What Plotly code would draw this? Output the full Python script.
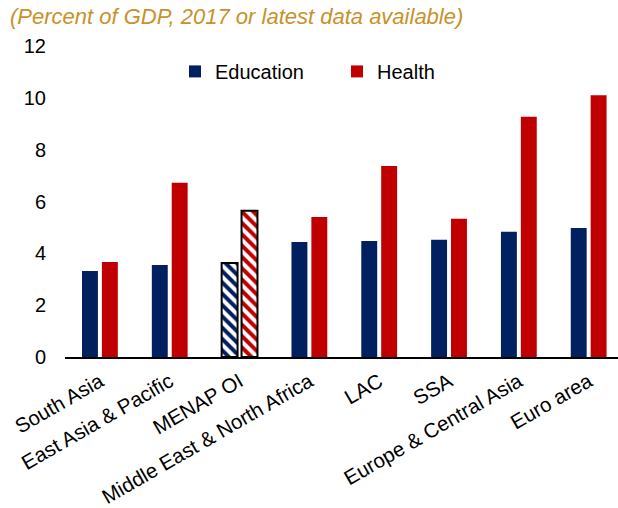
import plotly.graph_objects as go

categories = ["South Asia", "East Asia & Pacific", "MENAP OI", "Middle East & North Africa",
              "LAC", "SSA", "Europe & Central Asia", "Euro area"]
education = [3.32, 3.55, 3.63, 4.44, 4.48, 4.52, 4.83, 4.98]
health = [3.67, 6.72, 5.64, 5.40, 7.37, 5.33, 9.27, 10.10]
highlight = "MENAP OI"

NAVY = "#002060"
RED = "#C00000"

def marker_for(color):
    hl = [c == highlight for c in categories]
    shapes = ["\\" if h else "" for h in hl]
    lcol = ["black" if h else color for h in hl]
    lw = [2 if h else 0 for h in hl]
    return dict(color=color, line=dict(color=lcol, width=lw),
                pattern=dict(shape=shapes, bgcolor="white", fgcolor=color,
                             size=8, solidity=0.5, fillmode="replace"))

fig = go.Figure()
fig.add_trace(go.Bar(x=categories, y=education, name="Education",
                     marker=marker_for(NAVY), legend="legend", showlegend=True))
fig.add_trace(go.Bar(x=categories, y=health, name="Health",
                     marker=marker_for(RED), legend="legend2", showlegend=True))

leg = dict(orientation="h", yanchor="top", y=0.981, xanchor="left",
           font=dict(size=20), itemwidth=30, bgcolor="rgba(0,0,0,0)")

fig.update_layout(
    width=618, height=508,
    showlegend=True,
    margin=dict(l=65, r=0, t=46, b=151),
    paper_bgcolor="white", plot_bgcolor="white",
    barmode="group", bargap=0.43, bargroupgap=0.2,
    font=dict(family="Liberation Sans, Arial", size=20, color="black"),
    legend=dict(leg, x=(175 - 65) / 553),
    legend2=dict(leg, x=(337 - 65) / 553),
    annotations=[dict(text="<i>(Percent of GDP, 2017 or latest data available)</i>",
                      xref="paper", yref="paper", x=-0.103, y=1.0, xanchor="left",
                      yanchor="bottom", yshift=15, showarrow=False,
                      font=dict(size=22, color="#C8912A"))],
)
fig.update_xaxes(showline=True, linecolor="black", linewidth=1.5, tickangle=-30,
                 ticks="outside", ticklen=3, tickcolor="rgba(0,0,0,0)", automargin=False,
                 showgrid=False, tickfont=dict(size=20.5), range=[-0.5, 7.42])
fig.update_yaxes(range=[0, 12], dtick=2, showgrid=False, zeroline=False, automargin=False,
                 showline=False, ticks="", tickfont=dict(size=20), ticklabelstandoff=18)

fig.write_html("out.html")
